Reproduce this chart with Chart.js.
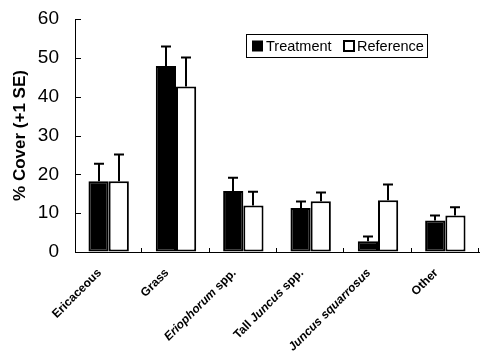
<!DOCTYPE html>
<html>
<head>
<meta charset="utf-8">
<script src="https://cdn.jsdelivr.net/npm/chart.js@4/dist/chart.umd.min.js"></script>
<style>
html,body{margin:0;padding:0;background:#fff;}
#wrap{width:485px;height:357px;position:relative;}
</style>
</head>
<body>
<div id="wrap"><canvas id="c" width="485" height="357"></canvas></div>
<script>
const categories = ['Ericaceous', 'Grass', 'Eriophorum spp.', 'Tall Juncus spp.', 'Juncus squarrosus', 'Other'];
const italicWords = ['Eriophorum', 'Juncus', 'squarrosus'];
const treatment = [18.2, 47.9, 15.7, 11.3, 2.8, 8.1];
const treatmentSE = [4.5, 5.0, 3.4, 1.7, 1.2, 1.3];
const reference = [18.2, 42.6, 12.0, 13.1, 13.3, 9.4];
const referenceSE = [6.9, 7.5, 3.5, 2.2, 4.1, 2.1];
const yTicks = [0, 10, 20, 30, 40, 50, 60];
const seriesNames = ['Treatment', 'Reference'];

const FONT = '"Liberation Sans", Arial, Helvetica, sans-serif';

const errorBars = {
  id: 'errorBars',
  afterDatasetsDraw(chart) {
    const ctx = chart.ctx;
    const ys = chart.scales.y;
    const ses = [treatmentSE, referenceSE];
    ctx.save();
    ctx.strokeStyle = '#000';
    ctx.lineWidth = 2;
    chart.data.datasets.forEach((ds, di) => {
      const meta = chart.getDatasetMeta(di);
      meta.data.forEach((el, i) => {
        const top = ys.getPixelForValue(ds.data[i] + ses[di][i]);
        const x = Math.round(el.x);
        ctx.beginPath();
        ctx.moveTo(x, el.y);
        ctx.lineTo(x, top);
        ctx.moveTo(x - 5, top);
        ctx.lineTo(x + 5, top);
        ctx.stroke();
      });
    });
    ctx.restore();
  }
};

const axisDecor = {
  id: 'axisDecor',
  afterDraw(chart) {
    const ctx = chart.ctx;
    const ys = chart.scales.y;
    const xs = chart.scales.x;
    const a = chart.chartArea;
    ctx.save();
    ctx.strokeStyle = '#000';
    ctx.lineWidth = 1;
    yTicks.forEach(v => {
      const y = Math.round(ys.getPixelForValue(v)) + 0.5;
      ctx.beginPath();
      ctx.moveTo(a.left, y);
      ctx.lineTo(a.left + 6, y);
      ctx.stroke();
    });
    const n = categories.length;
    const w = (a.right - a.left) / n;
    for (let i = 1; i <= n; i++) {
      const x = Math.round(a.left + i * w) - 0.5;
      ctx.beginPath();
      ctx.moveTo(x, a.bottom);
      ctx.lineTo(x, a.bottom - 4);
      ctx.stroke();
    }
    const size = 12;
    categories.forEach((lab, i) => {
      const cx = xs.getPixelForValue(i);
      const words = lab.split(' ');
      const parts = words.map((wd, k) => ({
        text: (k < words.length - 1) ? wd + ' ' : wd,
        font: (italicWords.includes(wd) ? 'italic ' : '') + 'bold ' + size + 'px ' + FONT
      }));
      let total = 0;
      parts.forEach(p => { ctx.font = p.font; p.w = ctx.measureText(p.text).width; total += p.w; });
      ctx.save();
      ctx.translate(cx - 9, a.bottom + 19);
      ctx.rotate(-Math.PI / 4);
      ctx.fillStyle = '#000';
      ctx.textBaseline = 'middle';
      ctx.textAlign = 'left';
      let x = -total;
      parts.forEach(p => { ctx.font = p.font; ctx.fillText(p.text, x, 0); x += p.w; });
      ctx.restore();
    });
    const lx = 246.5, ly = 34.5, lw = 181, lh = 23;
    ctx.strokeRect(lx, ly, lw, lh);
    ctx.font = '14.5px ' + FONT;
    ctx.textBaseline = 'middle';
    ctx.fillStyle = '#000';
    const cy = ly + lh / 2;
    ctx.fillRect(252, cy - 5.5, 11, 11);
    ctx.fillText(seriesNames[0], 266, cy + 1);
    ctx.lineWidth = 2;
    ctx.strokeRect(344, cy - 5, 10, 10);
    ctx.fillText(seriesNames[1], 357, cy + 1);
    ctx.restore();
  }
};

new Chart(document.getElementById('c'), {
  type: 'bar',
  data: {
    labels: categories,
    datasets: [
      { label: seriesNames[0], data: treatment, backgroundColor: '#000', borderColor: '#000', borderWidth: 2, borderSkipped: false },
      { label: seriesNames[1], data: reference, backgroundColor: '#fff', borderColor: '#000', borderWidth: 2, borderSkipped: false }
    ]
  },
  options: {
    responsive: false,
    animation: false,
    layout: { padding: { top: 19, right: 6, left: 0, bottom: 0 } },
    datasets: { bar: { barPercentage: 1.0, categoryPercentage: 0.6 } },
    plugins: { legend: { display: false }, tooltip: { enabled: false } },
    scales: {
      x: {
        grid: { display: false, drawTicks: false },
        border: { display: true, color: '#000', width: 1 },
        ticks: { display: false },
        afterFit(s) { s.height = 105; }
      },
      y: {
        min: 0, max: 60,
        afterBuildTicks(s) { s.ticks = yTicks.map(v => ({ value: v })); },
        grid: { drawOnChartArea: false, drawTicks: true, tickLength: 16, color: 'rgba(0,0,0,0)' },
        border: { display: true, color: '#000', width: 1 },
        ticks: { color: '#000', padding: 0, font: { family: FONT, size: 19 } },
        title: { display: true, text: '% Cover (+1 SE)', color: '#000', padding: { top: 10, bottom: 0 }, font: { family: FONT, size: 17, weight: 'bold' } },
        afterFit(s) { s.width = 75; }
      }
    }
  },
  plugins: [errorBars, axisDecor]
});
</script>
</body>
</html>
